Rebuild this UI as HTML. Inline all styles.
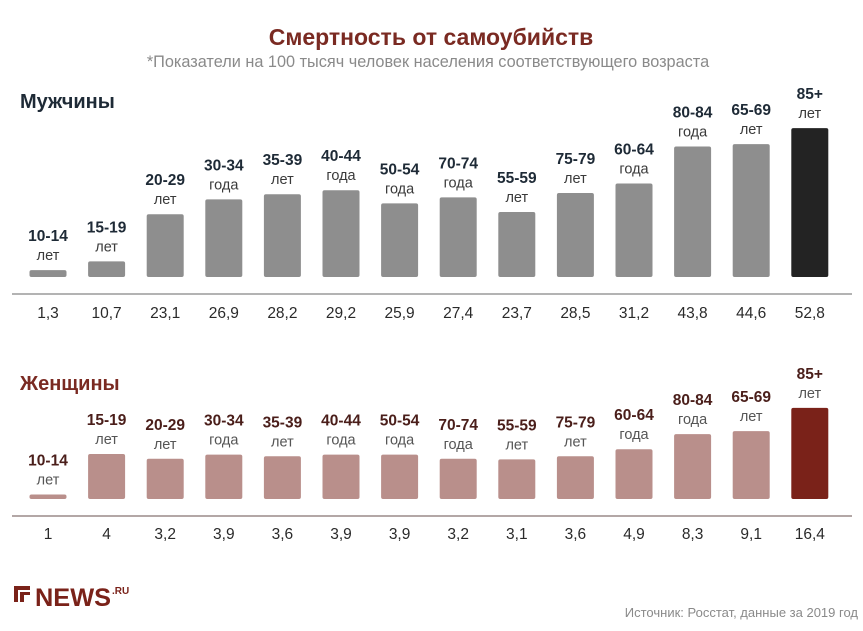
<!DOCTYPE html>
<html><head><meta charset="utf-8"><style>
body{margin:0;background:#fff;width:863px;height:631px;overflow:hidden;font-family:"Liberation Sans","DejaVu Sans",sans-serif}
svg{display:block}
</style></head><body>
<svg id="chart" width="863" height="631">
<text x="431" y="45" text-anchor="middle" font-size="23" font-weight="bold" fill="#7a2a22">Смертность от самоубийств</text>
<text x="428" y="67" text-anchor="middle" font-size="16.3" fill="#8a8a8a">*Показатели на 100 тысяч человек населения соответствующего возраста</text>
<text x="20" y="108" font-size="20" font-weight="bold" fill="#1e2a36">Мужчины</text>
<text x="20" y="390" font-size="20" font-weight="bold" fill="#7a2a22">Женщины</text>
<line x1="12" y1="294" x2="852" y2="294" stroke="#9a9a9a" stroke-width="1.5"/>
<line x1="12" y1="516" x2="852" y2="516" stroke="#9a8a88" stroke-width="1.5"/>
<g>
<rect x="14" y="586" width="4" height="16" fill="#7a2219"/><rect x="14" y="586" width="16" height="4" fill="#7a2219"/>
<rect x="20" y="592" width="4" height="10" fill="#7a2219"/><rect x="20" y="592" width="10" height="3" fill="#7a2219"/>
<text x="35" y="606" font-size="25" font-weight="900" fill="#7a2219" textLength="76" lengthAdjust="spacingAndGlyphs">NEWS</text>
<text x="112" y="594" font-size="10" font-weight="bold" fill="#7a2219">.RU</text>
</g>
<text x="858" y="617" text-anchor="end" font-size="13" fill="#8a8a8a">Источник: Росстат, данные за 2019 год</text>
<g id="men"></g><g id="women"></g>
</svg>
<script>
const categories=["10-14","15-19","20-29","30-34","35-39","40-44","50-54","70-74","55-59","75-79","60-64","80-84","65-69","85+"];
const subLabels=["лет","лет","лет","года","лет","года","года","года","лет","лет","года","года","лет","лет"];
const menValues=[1.3,10.7,23.1,26.9,28.2,29.2,25.9,27.4,23.7,28.5,31.2,43.8,44.6,52.8];
const womenValues=[1,4,3.2,3.9,3.6,3.9,3.9,3.2,3.1,3.6,4.9,8.3,9.1,16.4];
const menLabels=["1,3","10,7","23,1","26,9","28,2","29,2","25,9","27,4","23,7","28,5","31,2","43,8","44,6","52,8"];
const womenLabels=["1","4","3,2","3,9","3,6","3,9","3,9","3,2","3,1","3,6","4,9","8,3","9,1","16,4"];
const NS="http://www.w3.org/2000/svg";
function xScale(i){return 48+i*58.6;}
function piecewise(dom,rng){return v=>{if(v<=dom[0])return rng[0];for(let k=1;k<dom.length;k++){if(v<=dom[k]){const t=(v-dom[k-1])/(dom[k]-dom[k-1]);return rng[k-1]+t*(rng[k]-rng[k-1]);}}const n=dom.length-1;return rng[n]+(v-dom[n])*(rng[n]-rng[n-1])/(dom[n]-dom[n-1]);};}
const menH=piecewise([0,10,25,30,45,55],[6,13,70,90,134,153]);
function womenH(v){return Math.max(4,22.5*Math.sqrt(v)-(v<2?18:0));}
function mk(tag,attrs,parent,txt){const e=document.createElementNS(NS,tag);for(const k in attrs)e.setAttribute(k,attrs[k]);if(txt!==undefined)e.textContent=txt;parent.appendChild(e);return e;}
function draw(gid,vals,labs,base,hfn,col,last,rcol,scol,vy,pref){
 const g=document.getElementById(gid);
 vals.forEach((v,i)=>{
  const h=hfn(v),cx=xScale(i),top=base-h;
  const r=mk('rect',{x:cx-18.5,y:top,width:37,height:h,rx:2,fill:i===vals.length-1?last:col},g);
  
  
  const t1=mk('text',{x:cx,y:top-29,'text-anchor':'middle','font-size':15.5,'font-weight':'bold',fill:rcol},g,categories[i]);
  
  
  const t2=mk('text',{x:cx,y:top-10,'text-anchor':'middle','font-size':14.5,fill:scol},g,subLabels[i]);
  
  
  const t3=mk('text',{x:cx,y:vy,'text-anchor':'middle','font-size':15.5,fill:'#2a2a2a'},g,labs[i]);
  
  
 });
}
draw('men',menValues,menLabels,277,menH,'#8e8e8e','#232323','#1e2a36','#3a3a3a',318,'men');
draw('women',womenValues,womenLabels,499,womenH,'#b98f8b','#7a2219','#4a1e1a','#555',539,'women');
</script>
</body></html>
